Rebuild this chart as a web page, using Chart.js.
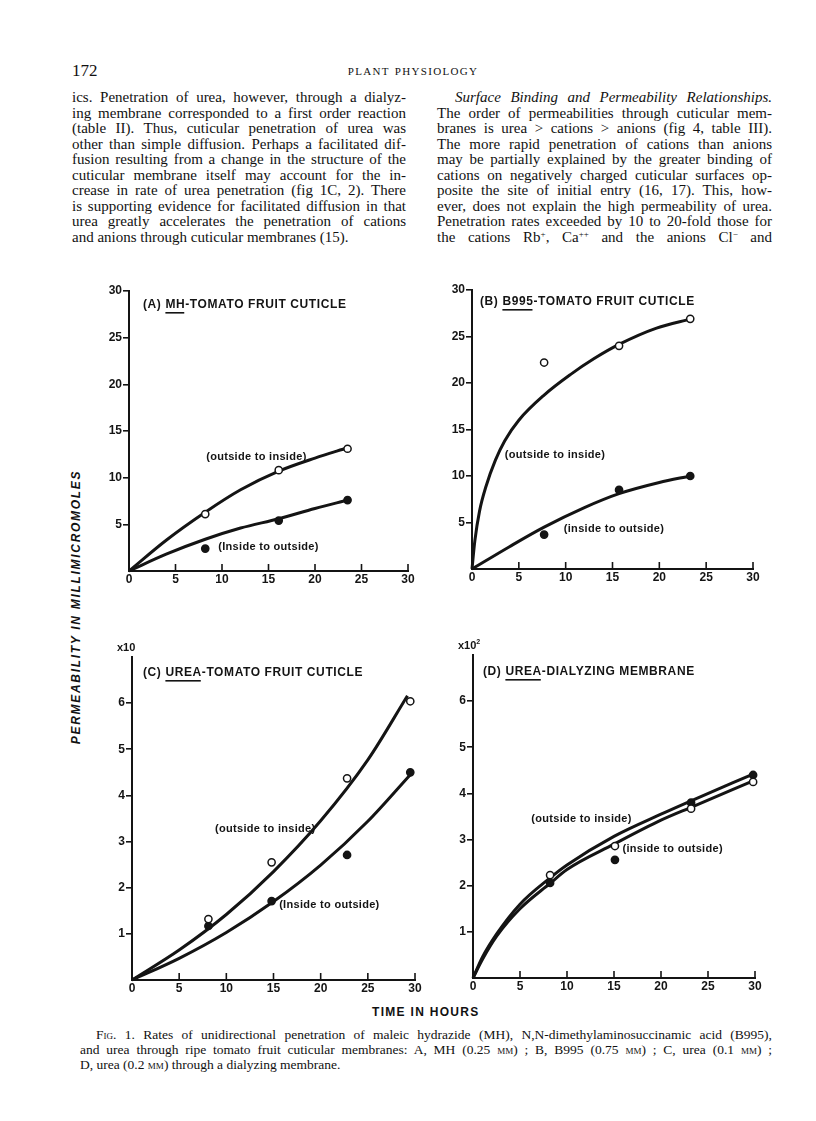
<!DOCTYPE html>
<html>
<head>
<meta charset="utf-8">
<script src="https://cdn.jsdelivr.net/npm/chart.js@4.4.0/dist/chart.umd.min.js"></script>
<style>
  body { margin: 0; width: 816px; height: 1121px; position: relative; background: #fff; color: #111; font-family: "Liberation Serif", "DejaVu Serif", serif; overflow: hidden; }
  .abs { position: absolute; }
  .col { position: absolute; font-size: 15px; line-height: 15.5px; }
  .col div, .cap div { text-align: justify; text-align-last: justify; }
  .col div.end, .cap div.end { text-align-last: left; }
  .sc { font-variant: small-caps; }
  sup { font-size: 9px; line-height: 0; vertical-align: 5px; }
  .cap { position: absolute; font-size: 13.5px; line-height: 15px; }
  .ylab { position: absolute; width: 330px; text-align: center; transform: rotate(-90deg); transform-origin: 50% 50%;
          font: italic bold 12px "Liberation Sans", Arial, sans-serif; letter-spacing: 1.7px; }
  .xlab { position: absolute; font: bold 12px "Liberation Sans", Arial, sans-serif; letter-spacing: 1.3px; }
</style>
</head>
<body>

<div class="abs" style="left:72px; top:61px; font-size:17px;">172</div>
<div class="abs sc" style="left:296px; top:62px; width:234px; text-align:center; font-size:15px; letter-spacing:1.3px;">plant physiology</div>

<div class="col" style="left:72px; top:90px; width:334px;">
  <div>ics. Penetration of urea, however, through a dialyz-</div>
  <div>ing membrane corresponded to a first order reaction</div>
  <div>(table II). Thus, cuticular penetration of urea was</div>
  <div>other than simple diffusion. Perhaps a facilitated dif-</div>
  <div>fusion resulting from a change in the structure of the</div>
  <div>cuticular membrane itself may account for the in-</div>
  <div>crease in rate of urea penetration (fig 1C, 2). There</div>
  <div>is supporting evidence for facilitated diffusion in that</div>
  <div>urea greatly accelerates the penetration of cations</div>
  <div class="end">and anions through cuticular membranes (15).</div>
</div>

<div class="col" style="left:437px; top:90px; width:335px;">
  <div style="text-indent:18px; font-style:italic;">Surface Binding and Permeability Relationships.</div>
  <div>The order of permeabilities through cuticular mem-</div>
  <div>branes is urea &gt; cations &gt; anions (fig 4, table III).</div>
  <div>The more rapid penetration of cations than anions</div>
  <div>may be partially explained by the greater binding of</div>
  <div>cations on negatively charged cuticular surfaces op-</div>
  <div>posite the site of initial entry (16, 17). This, how-</div>
  <div>ever, does not explain the high permeability of urea.</div>
  <div>Penetration rates exceeded by 10 to 20-fold those for</div>
  <div>the cations Rb<sup>+</sup>, Ca<sup>++</sup> and the anions Cl<sup>&minus;</sup> and</div>
</div>

<div class="ylab" style="left:-89px; top:600px;">PERMEABILITY IN MILLIMICROMOLES</div>
<div class="xlab" style="left:372px; top:1005px;">TIME IN HOURS</div>

<div class="cap" style="left:80px; top:1027px; width:692px;">
  <div style="text-indent:16px;"><span class="sc">Fig.</span> 1. Rates of unidirectional penetration of maleic hydrazide (MH), N,N-dimethylaminosuccinamic acid (B995),</div>
  <div>and urea through ripe tomato fruit cuticular membranes: A, MH (0.25 <span class="sc">mm</span>) ; B, B995 (0.75 <span class="sc">mm</span>) ; C, urea (0.1 <span class="sc">mm</span>) ;</div>
  <div class="end">D, urea (0.2 <span class="sc">mm</span>) through a dialyzing membrane.</div>
</div>

<script>
// shared x axis ticks (hours)
const hourTicks = [0, 5, 10, 15, 20, 25, 30];

// (A) MH - tomato fruit cuticle
const mhHours = [8.2, 16.1, 23.5];
const mhOutIn = [6.1, 10.8, 13.1];
const mhInOut = [2.4, 5.4, 7.6];
const mhCurveHours = [0, 4, 8.2, 12, 16.1, 20, 23.5];
const mhCurveOutIn = [0, 3.3, 6.3, 8.7, 10.7, 12.1, 13.2];
const mhCurveInOut = [0, 1.8, 3.4, 4.6, 5.6, 6.7, 7.6];

// (B) B995 - tomato fruit cuticle
const bHours = [7.7, 15.7, 23.3];
const bOutIn = [22.2, 24.0, 26.9];
const bInOut = [3.7, 8.5, 10.0];
const bCurveOutHours = [0, 0.3, 0.8, 1.5, 2.5, 3.5, 5, 7.7, 10.5, 13, 15.8, 19.7, 23.4];
const bCurveOutIn = [0, 3.0, 6.2, 8.9, 11.7, 13.8, 16.0, 18.7, 20.9, 22.6, 24.2, 25.9, 26.9];
const bCurveInHours = [0, 4, 7.7, 12, 15.7, 20, 23.3];
const bCurveInOut = [0, 2.4, 4.5, 6.6, 8.1, 9.3, 10.0];

// (C) urea - tomato fruit cuticle (x10)
const cHours = [8.1, 14.8, 22.8, 29.5];
const cOutIn = [1.32, 2.55, 4.37, 6.04];
const cInOut = [1.17, 1.71, 2.71, 4.5];
const cCurveOutHours = [0, 5, 10, 15, 20, 25, 29.2];
const cCurveOutIn = [0, 0.65, 1.42, 2.35, 3.45, 4.77, 6.16];
const cCurveInHours = [0, 5, 10, 15, 20, 25, 29.5];
const cCurveInOut = [0, 0.47, 1.03, 1.7, 2.49, 3.44, 4.45];

// (D) urea - dialyzing membrane (x10^2)
const dHours = [8.2, 15.1, 23.2, 29.8];
const dOutIn = [2.23, 2.86, 3.67, 4.25];
const dInOut = [2.06, 2.56, 3.8, 4.4];
const dCurveHours = [0, 1, 2.5, 5, 8.2, 10, 15, 20, 23.2, 29.8];
const dCurveUpper = [0, 0.45, 0.95, 1.6, 2.17, 2.45, 3.07, 3.55, 3.84, 4.42];
const dCurveLower = [0, 0.4, 0.9, 1.5, 2.05, 2.35, 2.9, 3.42, 3.7, 4.27];

const INK = '#141414';
const SANS = '"Liberation Sans", Arial, sans-serif';

const pts = (xs, ys) => xs.map((x, i) => ({ x: x, y: ys[i] }));

function marks(data, open) {
  return {
    data: data, showLine: false, clip: false, order: 0,
    pointRadius: 3.6, pointBorderWidth: 1.5, pointBorderColor: INK,
    pointBackgroundColor: open ? '#fff' : INK
  };
}
function curve(data) {
  return {
    data: data, showLine: true, clip: false, order: 1,
    borderColor: INK, borderWidth: 3, pointRadius: 0,
    cubicInterpolationMode: 'monotone'
  };
}

// titles, curve labels, inward x ticks, multiplier
const panelDecor = {
  id: 'panelDecor',
  afterDraw(chart) {
    const o = chart.config.options.plugins.panelDecor;
    const { ctx, chartArea } = chart;
    const x = chart.scales.x, y = chart.scales.y;
    ctx.save();
    ctx.strokeStyle = INK;
    ctx.lineWidth = 1.6;
    hourTicks.forEach(v => {
      if (v === 0) return;
      const px = x.getPixelForValue(v);
      ctx.beginPath();
      ctx.moveTo(px, chartArea.bottom);
      ctx.lineTo(px, chartArea.bottom - 7);
      ctx.stroke();
    });

    ctx.fillStyle = INK;
    ctx.textBaseline = 'middle';
    ctx.textAlign = 'left';
    ctx.font = 'bold 12px ' + SANS;
    ctx.letterSpacing = '0.6px';
    let tx = chartArea.left + o.titleDx;
    const ty = chartArea.top + o.titleDy;
    const parts = o.title;
    ctx.fillText(parts[0], tx, ty);
    tx += ctx.measureText(parts[0]).width;
    const uw = ctx.measureText(parts[1]).width;
    ctx.fillText(parts[1], tx, ty);
    ctx.fillRect(tx, ty + 7, uw - 1, 1.6);
    tx += uw;
    ctx.fillText(parts[2], tx, ty);

    ctx.font = 'bold 11px ' + SANS;
    ctx.letterSpacing = '0.3px';
    o.labels.forEach(l => {
      ctx.fillText(l.text, x.getPixelForValue(l.x), y.getPixelForValue(l.y));
    });

    if (o.mult) {
      ctx.font = 'bold 11px ' + SANS;
      ctx.letterSpacing = '0px';
      const mx = chartArea.left - 15, my = chartArea.top - 9;
      ctx.fillText(o.mult, mx, my);
      if (o.multSup) {
        const w = ctx.measureText(o.mult).width;
        ctx.font = 'bold 7px ' + SANS;
        ctx.fillText(o.multSup, mx + w, my - 4);
      }
    }
    ctx.restore();
  }
};

function panel(area, yMax, yStep, datasets, decor) {
  const padL = 50, padT = 30, padR = 25, padB = 40;
  const cv = document.createElement('canvas');
  const w = area.right - area.left + padL + padR;
  const h = area.bottom - area.top + padT + padB;
  cv.width = w; cv.height = h;
  cv.style.position = 'absolute';
  cv.style.left = (area.left - padL) + 'px';
  cv.style.top = (area.top - padT) + 'px';
  document.body.appendChild(cv);

  const tickFont = { family: SANS, size: 12, weight: 'bold' };
  new Chart(cv.getContext('2d'), {
    type: 'scatter',
    data: { datasets: datasets },
    options: {
      responsive: false,
      animation: false,
      layout: { padding: { left: 10, top: padT, right: padR, bottom: 20 } },
      plugins: { legend: { display: false }, tooltip: { enabled: false }, panelDecor: decor },
      scales: {
        x: {
          type: 'linear', min: 0, max: 30,
          afterFit: s => { s.height = 20; },
          afterBuildTicks: s => { s.ticks = hourTicks.map(v => ({ value: v })); },
          ticks: { color: INK, font: tickFont, padding: 1, maxRotation: 0, callback: v => String(v) },
          grid: { display: true, drawOnChartArea: false, drawTicks: false },
          border: { display: true, color: INK, width: 2 }
        },
        y: {
          type: 'linear', min: 0, max: yMax,
          afterFit: s => { s.width = 40; },
          ticks: { stepSize: yStep, color: INK, font: tickFont, padding: 1,
                   callback: v => (v === 0 || v === 7) ? '' : String(v) },
          grid: { display: true, drawOnChartArea: false, drawTicks: true, tickLength: 6, lineWidth: 1.6,
                  color: c => (c.tick && (c.tick.value === 0 || c.tick.value === 7)) ? 'rgba(0,0,0,0)' : INK },
          border: { display: true, color: INK, width: 2 }
        }
      }
    },
    plugins: [panelDecor]
  });
}

panel({ left: 129, right: 408, top: 291, bottom: 571 }, 30, 5, [
  marks(pts(mhHours, mhOutIn), true),
  marks(pts(mhHours, mhInOut), false),
  curve(pts(mhCurveHours, mhCurveOutIn)),
  curve(pts(mhCurveHours, mhCurveInOut))
], {
  title: ['(A) ', 'MH', '-TOMATO FRUIT CUTICLE'], titleDx: 14, titleDy: 14,
  labels: [{ text: '(outside to inside)', x: 8.3, y: 12.2 }, { text: '(Inside to outside)', x: 9.6, y: 2.6 }]
});

panel({ left: 472, right: 753, top: 290, bottom: 569 }, 30, 5, [
  marks(pts(bHours, bOutIn), true),
  marks(pts(bHours, bInOut), false),
  curve(pts(bCurveOutHours, bCurveOutIn)),
  curve(pts(bCurveInHours, bCurveInOut))
], {
  title: ['(B) ', 'B995', '-TOMATO FRUIT CUTICLE'], titleDx: 8, titleDy: 12,
  labels: [{ text: '(outside to inside)', x: 3.5, y: 12.3 }, { text: '(inside to outside)', x: 9.8, y: 4.3 }]
});

panel({ left: 132, right: 415, top: 657, bottom: 980 }, 7, 1, [
  marks(pts(cHours, cOutIn), true),
  marks(pts(cHours, cInOut), false),
  curve(pts(cCurveOutHours, cCurveOutIn)),
  curve(pts(cCurveInHours, cCurveInOut))
], {
  title: ['(C) ', 'UREA', '-TOMATO FRUIT CUTICLE'], titleDx: 11, titleDy: 16,
  labels: [{ text: '(outside to inside)', x: 8.8, y: 3.27 }, { text: '(Inside to outside)', x: 15.6, y: 1.62 }],
  mult: 'x10'
});

panel({ left: 473, right: 755, top: 655, bottom: 978 }, 7, 1, [
  marks(pts(dHours, dOutIn), true),
  marks(pts(dHours, dInOut), false),
  curve(pts(dCurveHours, dCurveUpper)),
  curve(pts(dCurveHours, dCurveLower))
], {
  title: ['(D) ', 'UREA', '-DIALYZING MEMBRANE'], titleDx: 10, titleDy: 17,
  labels: [{ text: '(outside to inside)', x: 6.2, y: 3.45 }, { text: '(inside to outside)', x: 15.9, y: 2.8 }],
  mult: 'x10', multSup: '2'
});
</script>
</body>
</html>
